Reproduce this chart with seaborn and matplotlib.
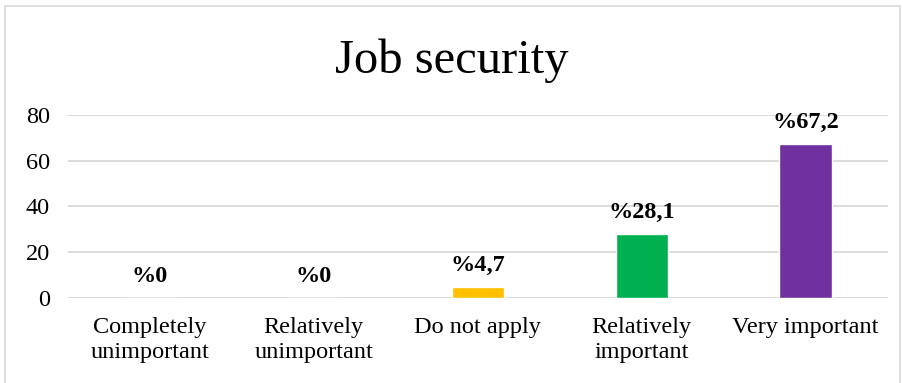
import numpy as np
import pandas as pd
import matplotlib.pyplot as plt
import seaborn as sns
from matplotlib.patches import Rectangle

categories = ["Completely\nunimportant", "Relatively\nunimportant", "Do not apply",
              "Relatively\nimportant", "Very important"]
values = [0, 0, 4.7, 28.1, 67.2]
labels = ["%0", "%0", "%4,7", "%28,1", "%67,2"]
colors = ["#4472C4", "#ED7D31", "#FFC000", "#00B050", "#7030A0"]

df = pd.DataFrame({"category": categories, "value": values})

sns.set_style("white")
plt.rcParams['font.family'] = ['Liberation Serif', 'DejaVu Serif']
plt.rcParams['text.color'] = 'black'
plt.rcParams['xtick.color'] = 'black'
plt.rcParams['ytick.color'] = 'black'

fig = plt.figure(figsize=(9.04, 3.83), dpi=100)
ax = fig.add_axes([0.075, 0.222, 0.907, 0.478])

sns.barplot(data=df, x="category", y="value", hue="category", palette=colors,
            legend=False, width=0.32, ax=ax, saturation=1)

ax.set_ylim(0, 80)
ax.set_yticks([0, 20, 40, 60, 80])
ax.yaxis.grid(True, color="#D9D9D9", linewidth=1.3)
ax.set_axisbelow(True)
for s in ax.spines.values():
    s.set_visible(False)
ax.tick_params(axis="y", labelsize=17.5, length=0, pad=13)
ax.tick_params(axis="x", labelsize=17.5, length=0, pad=14)
for t in ax.get_xticklabels():
    t.set_linespacing(1.25)
ax.set_xlabel("")
ax.set_ylabel("")

# bold percentage labels above each bar
for i, (v, lab) in enumerate(zip(values, labels)):
    ax.annotate(lab, (i, v), xytext=(0, 8), textcoords="offset points",
                ha="center", va="bottom", fontsize=17.5, fontweight="bold")

fig.text(0.5, 0.842, "Job security", ha="center", va="center", fontsize=35)

fig.patches.append(Rectangle((0.006, -0.01), 0.99, 0.995, transform=fig.transFigure,
                             fill=False, edgecolor="#D9D9D9", linewidth=1.2))

fig.savefig("out.png", dpi=100)
